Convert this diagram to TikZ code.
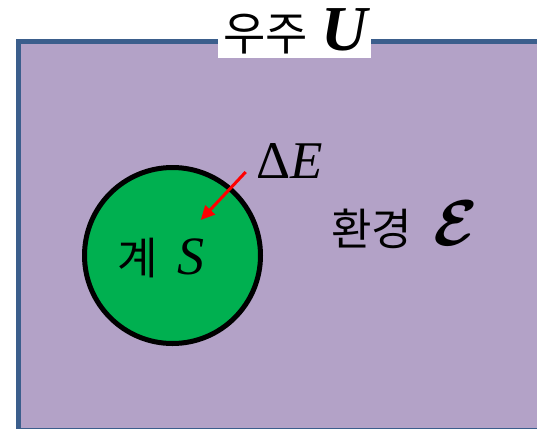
\documentclass[tikz,border=0pt]{standalone}
\usepackage{amsmath}
\usepackage{bm}
\usepackage{graphicx}
\usepackage{fontspec}
\setmainfont{Liberation Serif}
\newfontfamily\kr{Noto Sans CJK KR}
\usetikzlibrary{arrows.meta}
\definecolor{envpurple}{HTML}{B3A2C7}
\definecolor{frameblue}{HTML}{3B5E8C}
\definecolor{sysgreen}{HTML}{00B050}
\tikzset{
  lbl/.style={inner sep=0pt, outer sep=0pt, anchor=base west, text=black},
  krtxt/.style={lbl, font=\kr\fontsize{44}{44}\selectfont},
  flow/.style={draw=red, line width=3pt, -{Triangle[length=14pt,width=13pt]}}
}
\begin{document}
\begin{tikzpicture}[x=1pt,y=-1pt]
\useasboundingbox (0,0) rectangle (537,428);
\clip (0,0) rectangle (537,428);
\draw[fill=envpurple, draw=frameblue, line width=5pt] (18.5,41.5) rectangle (560,430);
\node[fill=white, inner sep=0pt, minimum width=153pt, minimum height=58pt, anchor=south west] (titlebox) at (218,58) {};
\node[krtxt, font=\kr\fontsize{46}{46}\selectfont] (title) at (223,51) {우주\hspace{14pt}{\rmfamily\fontsize{64}{64}\selectfont\bfseries\itshape U}};
\draw[fill=sysgreen, draw=black, line width=5pt] (172.5,255.5) circle[radius=88] node[coordinate] (sys) {};
\node[krtxt] (syslbl) at (117,274) {계\hspace{20pt}{\rmfamily\fontsize{54}{54}\selectfont\itshape S}};
\node[lbl, font=\fontsize{53}{53}\selectfont] (dE) at (256,178) {Δ\textit{E}};
\node[krtxt] (env) at (331,245) {환경\hspace{22pt}\scalebox{2.6}{$\bm{\mathcal{E}}$}};
\coordinate (arrS) at (245.7,172);
\coordinate (arrE) at (200.7,220);
\draw[flow] (arrS) -- (arrE);
\end{tikzpicture}
\end{document}
